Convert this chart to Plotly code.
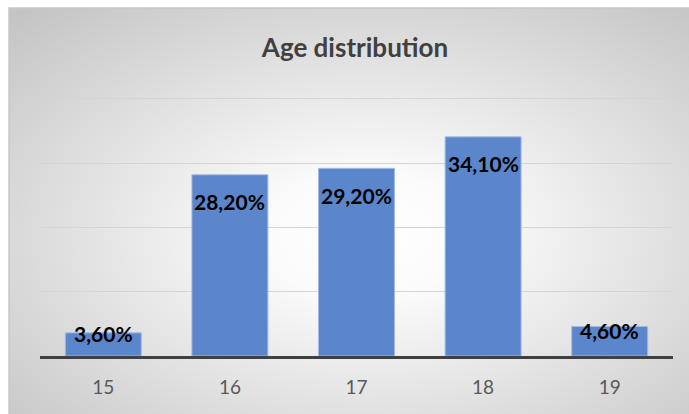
import base64
import plotly.graph_objects as go

# ---- data ----
ages = ["15", "16", "17", "18", "19"]
shares = [3.6, 28.2, 29.2, 34.1, 4.6]
labels = ["3,60%", "28,20%", "29,20%", "34,10%", "4,60%"]
title_text = "Age distribution"

# ---- style ----
label_yshift = [-1, -27, -27, -27, -4]
W, H = 689, 414
ML, MR, MT, MB = 40, 16, 97, 58
PW, PH = W - ML - MR, H - MT - MB
YMAX = 40.3


def px_to_paper_x(px):
    return (px - ML) / PW


def px_to_paper_y(py):
    return (H - MB - py) / PH


svg = (
    '<svg xmlns="http://www.w3.org/2000/svg" width="680" height="406" viewBox="0 0 680 406" preserveAspectRatio="none">'
    '<defs><radialGradient id="g" cx="0.53" cy="0.56" r="0.75" fx="0.53" fy="0.56">'
    '<stop offset="0" stop-color="#ffffff"/>'
    '<stop offset="0.2" stop-color="#fbfbfb"/>'
    '<stop offset="1" stop-color="#c4c4c4"/>'
    '</radialGradient></defs>'
    '<rect x="0" y="0" width="680" height="406" fill="url(#g)"/></svg>'
)
src = "data:image/svg+xml;base64," + base64.b64encode(svg.encode()).decode()

fig = go.Figure()
fig.add_trace(go.Bar(
    x=ages, y=shares,
    marker=dict(color="#5b86cc", line=dict(color="#a4bbe3", width=1)),
    hoverinfo="skip",
))

for i, (v, t, s) in enumerate(zip(shares, labels, label_yshift)):
    fig.add_annotation(
        x=i, y=v, text=t, showarrow=False, yanchor="middle", yshift=s,
        font=dict(family="Lato", size=21, color="#000000", weight="bold"),
    )

x0, x1 = px_to_paper_x(9), px_to_paper_x(689)
y0, y1 = px_to_paper_y(414), px_to_paper_y(8)
fig.add_layout_image(
    source=src, xref="paper", yref="paper", x=x0, y=y1,
    sizex=x1 - x0, sizey=y1 - y0, sizing="stretch",
    xanchor="left", yanchor="top", layer="below",
)
fig.add_shape(
    type="rect", xref="paper", yref="paper", x0=x0, x1=x1 + 0.01, y0=y0 - 0.01, y1=y1,
    line=dict(color="#c8c8c8", width=1.5), fillcolor="rgba(0,0,0,0)", layer="below",
)

fig.update_layout(
    width=W, height=H,
    margin=dict(l=ML, r=MR, t=MT, b=MB),
    paper_bgcolor="#ffffff",
    plot_bgcolor="rgba(0,0,0,0)",
    showlegend=False,
    bargap=0.4,
    title=dict(
        text=title_text, x=355 / W, xanchor="center", y=1 - 48 / H, yanchor="middle",
        font=dict(family="Lato", size=26, color="#404040", weight="bold"),
    ),
    xaxis=dict(
        type="category", range=[-0.5, len(ages) - 0.5],
        showline=True, linecolor="#404040", linewidth=3,
        showgrid=False, ticks="",
        tickfont=dict(family="Lato", size=19, color="#595959"),
        ticklabelstandoff=12,
        fixedrange=True,
    ),
    yaxis=dict(
        range=[0, YMAX], tickvals=[10, 20, 30, 40], showticklabels=False,
        showgrid=True, gridcolor="#d4d4d4", gridwidth=1,
        zeroline=False, fixedrange=True,
    ),
)

fig.write_html("out.html")
